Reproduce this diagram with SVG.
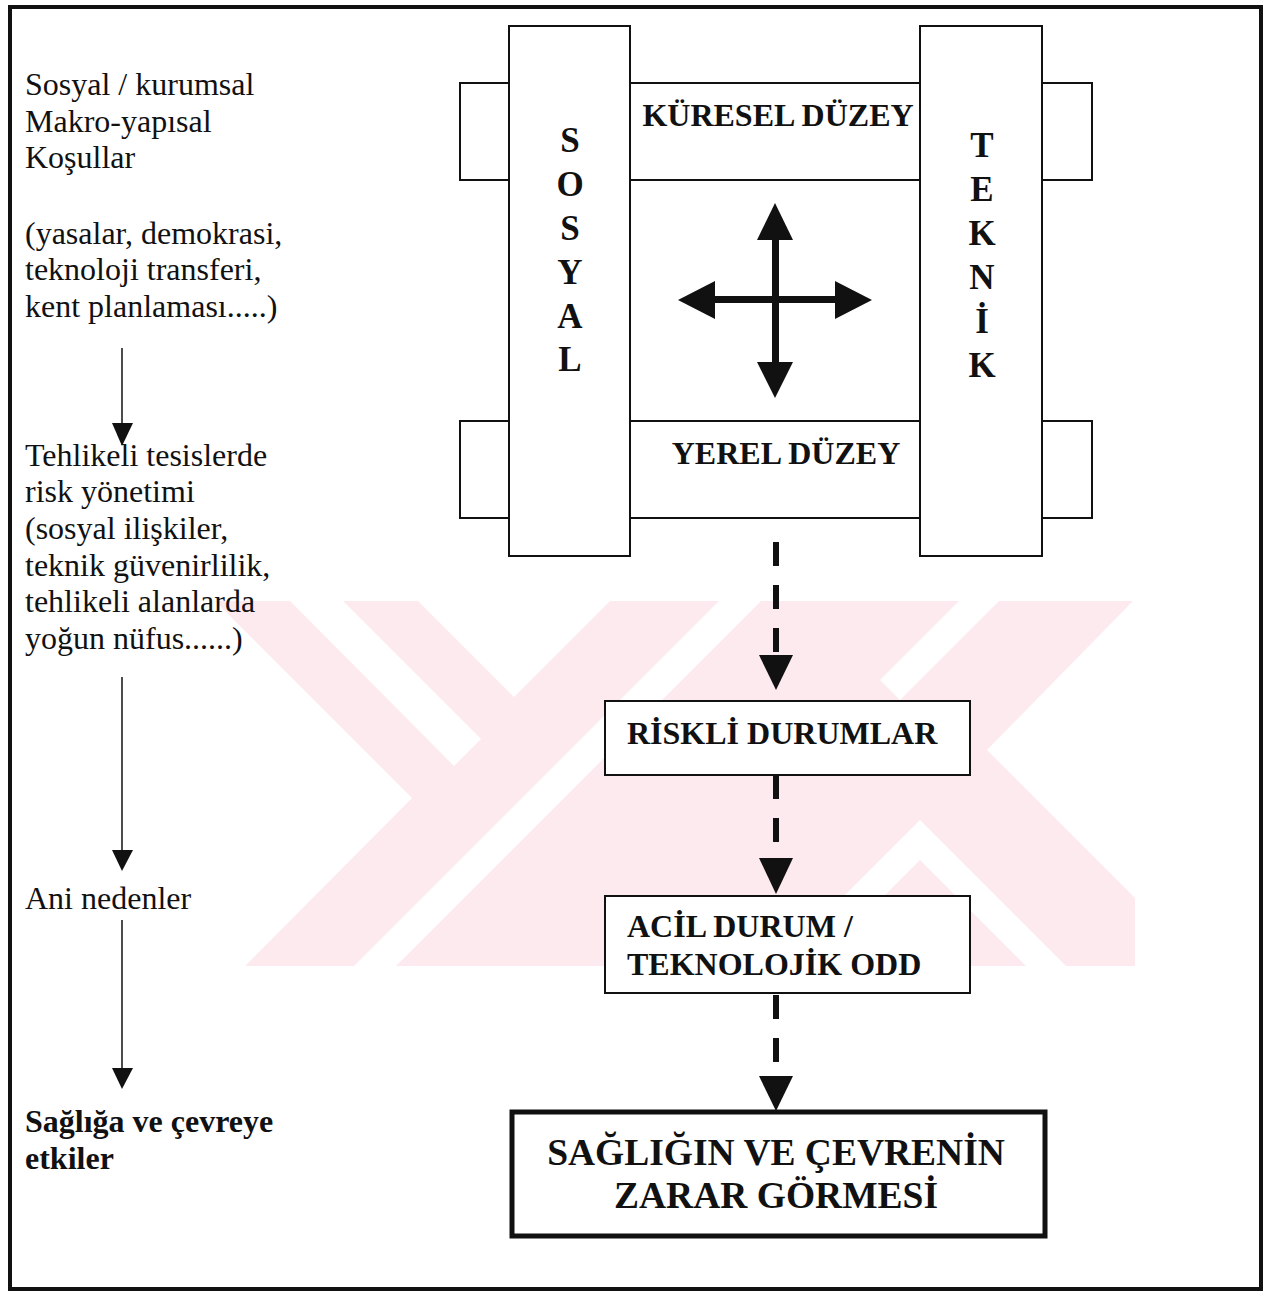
<svg xmlns="http://www.w3.org/2000/svg" width="1267" height="1296" viewBox="0 0 1267 1296">
<style>
.lt{font-family:"Liberation Serif","Times New Roman",serif;font-size:32px;fill:#111}
.bt{font-family:"Liberation Serif","Times New Roman",serif;font-size:32px;font-weight:bold;fill:#111}
.pl{font-family:"Liberation Serif","Times New Roman",serif;font-size:35px;font-weight:bold;fill:#111;text-anchor:middle}
.box{fill:#fff;stroke:#111;stroke-width:2}
.thin{stroke:#111;stroke-width:1.5;fill:none}
.dash{stroke:#111;stroke-width:6;fill:none;stroke-dasharray:24 19}
.head{fill:#111}
.wm{fill:#fdeaee}
.wmw{fill:#fff}
</style>
<rect width="1267" height="1296" fill="#fff"/>
<g id="watermark">
<path class="wm" d="M215,601 H1133 L987,750 L1135,898 V966 H245 L412,798 Z"/>
<polygon class="wmw" points="290,601 343,601 481,739 454,766"/>
<polygon class="wmw" points="418,601 610,601 514,697"/>
<polygon class="wmw" points="719,601 761,601 396,966 354,966"/>
<polygon class="wmw" points="959,601 999,601 900,700 880,680"/>
<polygon class="wmw" points="920,820 1066,966 1026,966 900,840"/>
<polygon class="wmw" points="900,840 920,860 814,966 774,966"/>
</g>
<rect x="10" y="7" width="1251" height="1282" fill="none" stroke="#111" stroke-width="4"/>
<g id="node-left-1">
<text class="lt" x="25" y="95">Sosyal / kurumsal</text>
<text class="lt" x="25" y="132">Makro-yapısal</text>
<text class="lt" x="25" y="168">Koşullar</text>
<text class="lt" x="25" y="244">(yasalar, demokrasi,</text>
<text class="lt" x="25" y="280">teknoloji transferi,</text>
<text class="lt" x="25" y="317">kent planlaması.....)</text>
</g>
<g id="node-left-2">
<text class="lt" x="25" y="466">Tehlikeli tesislerde</text>
<text class="lt" x="25" y="502">risk yönetimi</text>
<text class="lt" x="25" y="539">(sosyal ilişkiler,</text>
<text class="lt" x="25" y="576">teknik güvenirlilik,</text>
<text class="lt" x="25" y="612">tehlikeli alanlarda</text>
<text class="lt" x="25" y="649">yoğun nüfus......)</text>
</g>
<g id="node-left-3">
<text class="lt" x="25" y="909">Ani nedenler</text>
</g>
<g id="node-left-4">
<text class="bt" x="25" y="1132">Sağlığa ve çevreye</text>
<text class="bt" x="25" y="1169">etkiler</text>
</g>
<g id="node-kuresel">
<rect class="box" x="460" y="83" width="632" height="97"/>
<text class="bt" x="778" y="126" text-anchor="middle">KÜRESEL DÜZEY</text>
</g>
<g id="node-yerel">
<rect class="box" x="460" y="421" width="632" height="97"/>
<text class="bt" x="786" y="464" text-anchor="middle">YEREL DÜZEY</text>
</g>
<g id="node-sosyal">
<rect class="box" x="509" y="26" width="121" height="530"/>
<text class="pl" x="570" y="152">S</text>
<text class="pl" x="570" y="196">O</text>
<text class="pl" x="570" y="240">S</text>
<text class="pl" x="570" y="284">Y</text>
<text class="pl" x="570" y="328">A</text>
<text class="pl" x="570" y="371">L</text>
</g>
<g id="node-teknik">
<rect class="box" x="920" y="26" width="122" height="530"/>
<text class="pl" x="982" y="157">T</text>
<text class="pl" x="982" y="201">E</text>
<text class="pl" x="982" y="245">K</text>
<text class="pl" x="982" y="289">N</text>
<text class="pl" x="982" y="333">İ</text>
<text class="pl" x="982" y="377">K</text>
</g>
<g id="node-cross">
<rect x="772" y="235" width="7" height="130" class="head"/>
<rect x="710" y="296" width="130" height="7" class="head"/>
<polygon class="head" points="775,203 757,240 793,240"/>
<polygon class="head" points="775,398 757,362 793,362"/>
<polygon class="head" points="678,300 715,281 715,319"/>
<polygon class="head" points="872,300 835,281 835,319"/>
</g>
<g id="node-riskli">
<rect class="box" x="605" y="701" width="365" height="74"/>
<text class="bt" x="627" y="744">RİSKLİ DURUMLAR</text>
</g>
<g id="node-acil">
<rect class="box" x="605" y="896" width="365" height="97"/>
<text class="bt" x="627" y="937">ACİL DURUM /</text>
<text class="bt" x="627" y="975">TEKNOLOJİK ODD</text>
</g>
<g id="node-zarar">
<rect x="512" y="1112" width="533" height="124" fill="#fff" stroke="#111" stroke-width="5"/>
<text class="bt" x="776" y="1165" text-anchor="middle" style="font-size:37.5px">SAĞLIĞIN VE ÇEVRENİN</text>
<text class="bt" x="776" y="1208" text-anchor="middle" style="font-size:37.5px">ZARAR GÖRMESİ</text>
</g>
<g id="connectors">
<line class="thin" x1="122" y1="348" x2="122" y2="425"/>
<polygon class="head" points="112,423 133,423 122,446"/>
<line class="thin" x1="122" y1="677" x2="122" y2="852"/>
<polygon class="head" points="112,850 133,850 122,871"/>
<line class="thin" x1="122" y1="920" x2="122" y2="1070"/>
<polygon class="head" points="112,1068 133,1068 122,1089"/>
<line class="dash" x1="776" y1="542" x2="776" y2="655"/>
<polygon class="head" points="759,655 793,655 776,690"/>
<line class="dash" x1="776" y1="775" x2="776" y2="858"/>
<polygon class="head" points="759,858 793,858 776,894"/>
<line class="dash" x1="776" y1="995" x2="776" y2="1076"/>
<polygon class="head" points="759,1076 793,1076 776,1111"/>
</g>
</svg>
